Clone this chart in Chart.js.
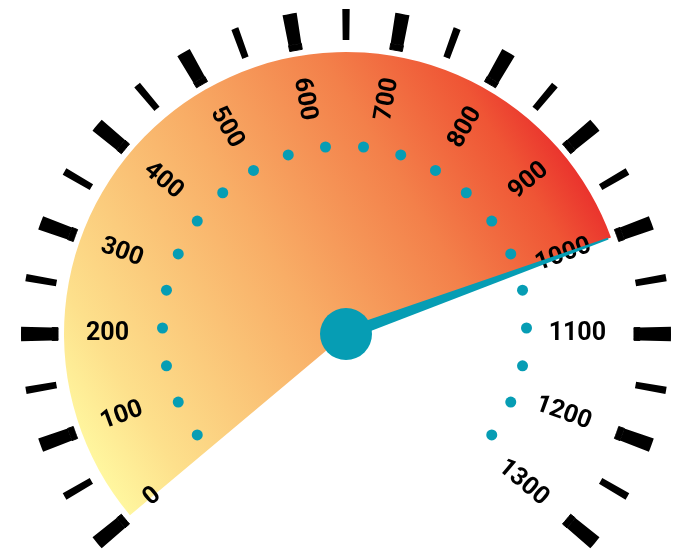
<!DOCTYPE html>
<html>
<head>
<meta charset="utf-8">
<script src="https://cdn.jsdelivr.net/npm/chart.js@4/dist/chart.umd.min.js"></script>
<style>
  html, body { margin: 0; padding: 0; background: #fff; }
  #wrap { position: relative; width: 674px; height: 551px; }
</style>
</head>
<body>
<div id="wrap"><canvas id="gauge"></canvas></div>
<script>
(function(){
  // gauge data
  const gaugeMin = 0;
  const gaugeMax = 1300;
  const gaugeValue = 1000;
  const majorTicks = [0, 100, 200, 300, 400, 500, 600, 700, 800, 900, 1000, 1100, 1200, 1300];
  const minorTicks = [50, 150, 250, 350, 450, 550, 650, 750, 850, 950, 1050, 1150, 1250];
  const tickLabels = ['0', '100', '200', '300', '400', '500', '600', '700', '800', '900', '1000', '1100', '1200', '1300'];
  const dotValues = [20, 80, 140, 200, 260, 320, 380, 440, 500, 560, 620, 680, 740, 800, 860, 920, 980, 1040, 1100, 1160, 1220, 1280];

  const START_DEG = -130;
  const SWEEP_DEG = 260;
  const degPerUnit = SWEEP_DEG / (gaugeMax - gaugeMin);
  const fullUnits = 360 / degPerUnit;

  const OUTER_R = 325;
  const MINOR_IN = 294;
  const MAJOR_IN = 288;
  const FILL_R = 282;
  const TEAL = '#069db4';
  const CLEAR = 'rgba(0,0,0,0)';

  function pxToUnits(px, r){
    return px / r * 180 / Math.PI / degPerUnit;
  }

  // tick ring: alternating gap / tick segments
  const ticks = majorTicks.map(v => ({ v, major: true, w: pxToUnits(13.5, 306) }))
    .concat(minorTicks.map(v => ({ v, major: false, w: pxToUnits(7, 309) })))
    .sort((a, b) => a.v - b.v);

  const ringStart = ticks[0].v - ticks[0].w / 2;
  const ringData = [], outerColors = [], innerColors = [];
  let cursor = ringStart;
  ticks.forEach(t => {
    ringData.push(t.v - t.w / 2 - cursor);
    outerColors.push(CLEAR);
    innerColors.push(CLEAR);
    ringData.push(t.w);
    outerColors.push('#000');
    innerColors.push(t.major ? '#000' : CLEAR);
    cursor = t.v + t.w / 2;
  });
  ringData.push(fullUnits - (cursor - ringStart));
  outerColors.push(CLEAR);
  innerColors.push(CLEAR);
  const ringRotation = START_DEG + (ringStart - gaugeMin) * degPerUnit;

  function fillGradient(c){
    const chart = c.chart;
    const area = chart.chartArea;
    if(!area) return '#f7a35f';
    const cx = (area.left + area.right) / 2;
    const cy = (area.top + area.bottom) / 2;
    const g = chart.ctx.createLinearGradient(cx - 246, cy + 146, cx + 254, cy - 164);
    g.addColorStop(0, '#fff8a0');
    g.addColorStop(0.12, '#fde08c');
    g.addColorStop(0.45, '#f8ad66');
    g.addColorStop(0.7, '#f3804a');
    g.addColorStop(0.88, '#ef5535');
    g.addColorStop(1, '#e8262a');
    return g;
  }

  const gaugeOverlay = {
    id: 'gaugeOverlay',
    afterDatasetsDraw(chart){
      const arc = chart.getDatasetMeta(3).data[0];
      const cx = arc.x, cy = arc.y;
      const perUnit = (arc.endAngle - arc.startAngle) / (gaugeValue - gaugeMin);
      const angleOf = v => arc.startAngle + (v - gaugeMin) * perUnit;
      const ctx = chart.ctx;
      ctx.save();

      // dots
      ctx.fillStyle = TEAL;
      dotValues.forEach(v => {
        const a = angleOf(v);
        ctx.beginPath();
        ctx.arc(cx - 1.5 + 182 * Math.cos(a), cy - 6 + 182 * Math.sin(a), 5.5, 0, Math.PI * 2);
        ctx.fill();
      });

      // labels, outer end of text on a fixed radius
      ctx.fillStyle = '#000';
      ctx.font = 'bold 25px Roboto';
      ctx.textBaseline = 'middle';
      majorTicks.forEach((v, i) => {
        const a = angleOf(v);
        const leftSide = a < -Math.PI / 2;
        ctx.save();
        ctx.translate(cx + 260 * Math.cos(a), cy + 260 * Math.sin(a));
        ctx.rotate(leftSide ? a + Math.PI : a);
        ctx.textAlign = leftSide ? 'left' : 'right';
        ctx.fillText(tickLabels[i], 0, 0);
        ctx.restore();
      });

      // needle
      const a = angleOf(gaugeValue);
      const ux = Math.cos(a), uy = Math.sin(a);
      const nx = -uy, ny = ux;
      const len = 279;
      ctx.fillStyle = TEAL;
      ctx.beginPath();
      ctx.moveTo(cx + nx * 6, cy + ny * 6);
      ctx.lineTo(cx + ux * len + nx, cy + uy * len + ny);
      ctx.lineTo(cx + ux * len - nx, cy + uy * len - ny);
      ctx.lineTo(cx - nx * 6, cy - ny * 6);
      ctx.closePath();
      ctx.fill();

      // hub
      ctx.beginPath();
      ctx.arc(cx, cy, 26, 0, Math.PI * 2);
      ctx.fill();
      ctx.restore();
    }
  };

  new Chart(document.getElementById('gauge'), {
    type: 'doughnut',
    data: {
      datasets: [
        { data: ringData, backgroundColor: outerColors, borderWidth: 0, rotation: ringRotation, weight: OUTER_R - MINOR_IN },
        {
          data: ringData, backgroundColor: innerColors, borderColor: innerColors,
          borderWidth: 1, borderAlign: 'center', rotation: ringRotation, weight: MINOR_IN - MAJOR_IN
        },
        { data: [1], backgroundColor: [CLEAR], borderWidth: 0, rotation: ringRotation, weight: MAJOR_IN - FILL_R },
        {
          data: [gaugeValue - gaugeMin, gaugeMax - gaugeValue],
          backgroundColor: c => c.dataIndex === 0 ? fillGradient(c) : CLEAR,
          borderWidth: 0,
          rotation: START_DEG,
          circumference: SWEEP_DEG,
          weight: FILL_R
        }
      ]
    },
    options: {
      responsive: true,
      maintainAspectRatio: false,
      animation: false,
      events: [],
      cutout: 0,
      radius: OUTER_R,
      layout: { padding: { left: 18, right: 0, top: 117, bottom: 0 } },
      plugins: {
        legend: { display: false },
        tooltip: { enabled: false }
      }
    },
    plugins: [gaugeOverlay]
  });
})();
</script>
</body>
</html>
